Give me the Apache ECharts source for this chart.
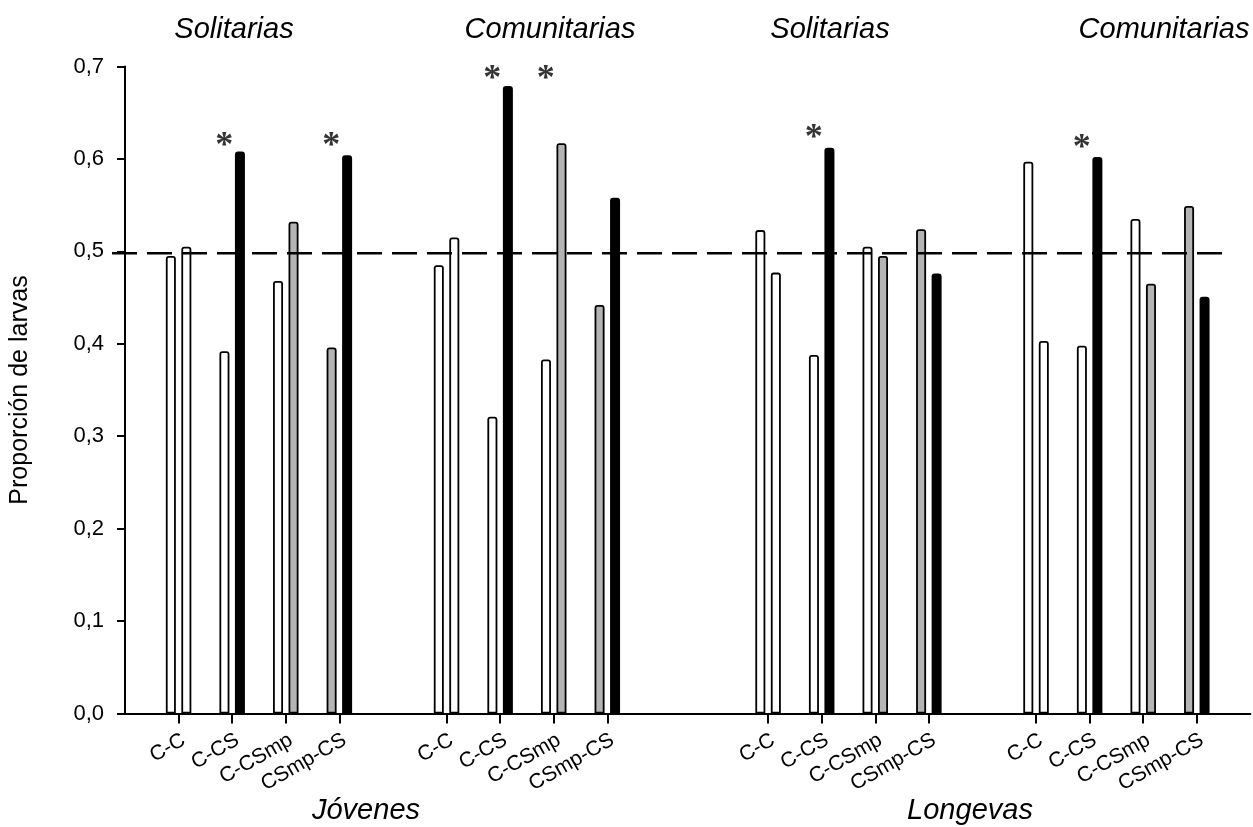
<!DOCTYPE html>
<html>
<head>
<meta charset="utf-8">
<script src="https://cdn.jsdelivr.net/npm/echarts@6/dist/echarts.min.js"></script>
<style>
html,body{margin:0;padding:0;background:#fff;}
#main{width:1253px;height:827px;}
</style>
</head>
<body>
<div id="main"></div>
<script>
// ---- data ----
const pairs = ['C-C', 'C-CS', 'C-CSmp', 'CSmp-CS'];
// category axis slots ('' = empty spacer slot)
const categories = ['', ...pairs, '', ...pairs, '', '', ...pairs, '', ...pairs, ''];
const groupTitles = ['Solitarias', 'Comunitarias', 'Solitarias', 'Comunitarias'];
const ageTitles = ['Jóvenes', 'Longevas'];
const yTicks = [0, 0.1, 0.2, 0.3, 0.4, 0.5, 0.6, 0.7];
const refLevel = 0.498;

// proportion of larvas for first and second treatment of each pair
const jovSolFirst  = [0.495, 0.392, 0.468, 0.396];
const jovSolSecond = [0.505, 0.608, 0.532, 0.604];
const jovComFirst  = [0.485, 0.321, 0.383, 0.442];
const jovComSecond = [0.515, 0.679, 0.617, 0.558];
const lonSolFirst  = [0.523, 0.388, 0.505, 0.524];
const lonSolSecond = [0.477, 0.612, 0.495, 0.476];
const lonComFirst  = [0.597, 0.398, 0.535, 0.549];
const lonComSecond = [0.403, 0.602, 0.465, 0.451];
// significance asterisks (height in axis units, null = none)
const jovSolStars = [null, 0.622, null, 0.622];
const jovComStars = [null, 0.694, 0.694, null];
const lonSolStars = [null, 0.630, null, null];
const lonComStars = [null, 0.620, null, null];

const firstGroups = [jovSolFirst, jovComFirst, lonSolFirst, lonComFirst];
const secondGroups = [jovSolSecond, jovComSecond, lonSolSecond, lonComSecond];
const starGroups = [jovSolStars, jovComStars, lonSolStars, lonComStars];

// ---- styles ----
const treatmentColor = { 'C': '#ffffff', 'CS': '#000000', 'CSmp': '#b4b4b4' };
const FONT = 'Liberation Sans, Arial, sans-serif';

// ---- build series data from the arrays ----
const firstData = [], secondData = [], starData = [];
let g = -1, k = 0, prevEmpty = true;
categories.forEach((c, i) => {
  if (c === '') { firstData.push(null); secondData.push(null); prevEmpty = true; return; }
  if (prevEmpty) { g++; k = 0; }
  prevEmpty = false;
  const parts = c.split('-');
  const st = (idx) => {
    const col = treatmentColor[parts[idx]];
    return { color: col, borderColor: '#000', borderWidth: col === '#000000' ? 2.2 : 1.8, borderRadius: [2, 2, 0, 0] };
  };
  firstData.push({ value: firstGroups[g][k], itemStyle: st(0) });
  secondData.push({ value: secondGroups[g][k], itemStyle: st(1) });
  if (starGroups[g][k] != null) starData.push([i, starGroups[g][k]]);
  k++;
});

const chart = echarts.init(document.getElementById('main'));
chart.setOption({
  animation: false,
  backgroundColor: '#fff',
  grid: { left: 118, right: 0, top: 66.5, bottom: 113.5, containLabel: false },
  xAxis: {
    type: 'category',
    data: categories,
    boundaryGap: false,
    axisLine: { lineStyle: { color: '#000', width: 2 } },
    axisTick: { length: 10, lineStyle: { color: '#000', width: 2 }, interval: (i, v) => v !== '' },
    axisLabel: { interval: 0, rotate: 30, margin: 16, verticalAlign: 'top', color: '#000', fontSize: 21, fontFamily: FONT },
    splitLine: { show: false }
  },
  yAxis: {
    type: 'value',
    min: yTicks[0], max: yTicks[yTicks.length - 1], interval: 0.1,
    name: 'Proporción de larvas',
    nameLocation: 'middle', nameRotate: 90, nameGap: 92,
    nameTextStyle: { color: '#000', fontSize: 25, fontFamily: FONT },
    axisLine: { show: true, lineStyle: { color: '#000', width: 2 } },
    axisTick: { show: true, length: 8, lineStyle: { color: '#000', width: 2 } },
    axisLabel: { margin: 21, color: '#000', fontSize: 22, fontFamily: FONT,
      formatter: v => v.toFixed(1).replace('.', ',') },
    splitLine: { show: false }
  },
  series: [
    { type: 'bar', data: firstData, barWidth: 10, barGap: '55%' },
    { type: 'bar', data: secondData, barWidth: 10, barGap: '55%' },
    { type: 'scatter', data: starData, symbolSize: 0, z: 10,
      label: { show: true, formatter: '*', position: 'inside', offset: [-8, 8],
        color: '#000', fontSize: 36, fontWeight: 'bold', fontFamily: 'Liberation Serif, serif' } }
  ]
});

const yRef = chart.convertToPixel({ yAxisIndex: 0 }, refLevel);
const titleStyle = { fill: '#000', fontSize: 29, fontStyle: 'italic', fontFamily: FONT, textAlign: 'center', textVerticalAlign: 'middle' };
const titleX = [234, 550, 830, 1164];
const ageX = [366, 970];
const graphics = [
  { type: 'line', z: 100, shape: { x1: 112, y1: yRef, x2: 1228, y2: yRef },
    style: { stroke: '#000', lineWidth: 2.6, lineDash: [25, 10] } }
];
groupTitles.forEach((t, i) => graphics.push({ type: 'text', x: titleX[i], y: 30, style: Object.assign({ text: t }, titleStyle) }));
ageTitles.forEach((t, i) => graphics.push({ type: 'text', x: ageX[i], y: 811, style: Object.assign({ text: t }, titleStyle) }));
chart.setOption({ graphic: graphics });
</script>
</body>
</html>
